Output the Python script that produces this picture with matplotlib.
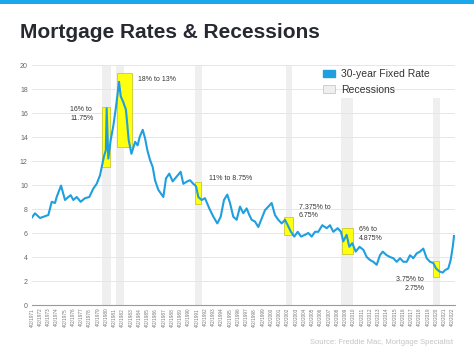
import matplotlib
matplotlib.use("Agg")
import matplotlib.pyplot as plt
from matplotlib.patches import Patch, Rectangle

plt.rcParams['font.family'] = ['Liberation Sans', 'DejaVu Sans']

# taxa fixa a 30 anos, ano em decimal
anos = [1971.25, 1971.61, 1972.22, 1972.83, 1973.23, 1973.64, 1974.04, 1974.24, 1974.77,
        1975.25, 1975.65, 1975.94, 1976.26, 1976.67, 1977.15, 1977.67, 1978.2, 1978.68,
        1979.09, 1979.49, 1979.82, 1979.98, 1980.2, 1980.3, 1980.5, 1980.79, 1981.1,
        1981.43, 1981.8, 1982.0, 1982.32, 1982.64, 1982.97, 1983.3, 1983.75, 1984.05,
        1984.3, 1984.67, 1984.95, 1985.23, 1985.55, 1985.88, 1986.16, 1986.56, 1987.17,
        1987.49, 1987.89, 1988.3, 1988.79, 1989.27, 1989.59, 1990.07, 1990.4, 1990.8,
        1991.13, 1991.41, 1991.82, 1992.22, 1992.74, 1993.23, 1993.71, 1994.12, 1994.52,
        1994.92, 1995.25, 1995.65, 1996.06, 1996.46, 1996.86, 1997.27, 1997.59, 1997.88,
        1998.28, 1998.68, 1999.09, 1999.49, 1999.89, 2000.3, 2000.7, 2001.1, 2001.52,
        2001.92, 2002.24, 2002.64, 2003.04, 2003.46, 2003.86, 2004.34, 2004.74, 2005.15,
        2005.55, 2005.95, 2006.44, 2006.97, 2007.37, 2007.77, 2008.3, 2008.7, 2008.98,
        2009.39, 2009.71, 2010.07, 2010.49, 2010.95, 2011.41, 2011.82, 2012.22, 2012.62,
        2013.03, 2013.43, 2013.76, 2014.24, 2014.64, 2015.04, 2015.46, 2015.86, 2016.26,
        2016.67, 2017.07, 2017.47, 2017.88, 2018.28, 2018.68, 2019.09, 2019.49, 2019.89,
        2020.22, 2020.62, 2021.03, 2021.31, 2021.71, 2022.0, 2022.25, 2022.4]
taxas = [7.3, 7.64, 7.25, 7.4, 7.5, 8.6, 8.5, 9.0, 9.95,
         8.75, 9.0, 9.15, 8.75, 9.0, 8.6, 8.9, 9.0, 9.7,
         10.1, 10.8, 11.9, 12.4, 12.9, 16.4, 12.2, 13.75, 14.9,
         16.5, 18.6, 17.4, 16.9, 16.25, 13.75, 12.6, 13.6, 13.3,
         14.0, 14.6, 13.9, 12.9, 12.1, 11.5, 10.4, 9.6, 9.0,
         10.55, 10.95, 10.3, 10.7, 11.1, 10.1, 10.3, 10.4, 10.1,
         9.9, 9.0, 8.75, 8.9, 8.05, 7.36, 6.8, 7.35, 8.75,
         9.2, 8.5, 7.35, 7.1, 8.2, 7.65, 8.05, 7.5, 7.1,
         6.95, 6.5, 7.2, 7.9, 8.2, 8.5, 7.5, 7.1, 6.8,
         7.1, 6.65, 6.1, 5.7, 6.1, 5.7, 5.85, 6.0, 5.7,
         6.1, 6.1, 6.65, 6.4, 6.65, 6.1, 6.4, 6.1, 5.3,
         5.85, 4.85, 5.15, 4.45, 4.85, 4.6, 4.0, 3.75, 3.6,
         3.35, 4.15, 4.45, 4.15, 4.0, 3.9, 3.6, 3.9, 3.6,
         3.6, 4.15, 3.9, 4.3, 4.45, 4.7, 3.9, 3.6, 3.5,
         3.05, 2.8, 2.7, 2.9, 3.05, 3.75, 4.85, 5.75]

# recessões (inicio, fim)
recessoes = [(1979.70, 1980.79), (1981.40, 1982.44), (1991.01, 1991.89),
             (2002.00, 2002.73), (2008.67, 2010.20), (2019.82, 2020.70)]

# caixas amarelas: (ano inicio, ano fim, taxa baixa, taxa alta)
caixas = [(1979.70, 1980.67, 11.5, 16.47), (1981.59, 1983.37, 13.2, 19.36),
          (1990.97, 1991.73, 8.39, 10.22), (2001.83, 2002.92, 5.83, 7.3),
          (2008.79, 2010.20, 4.22, 6.39), (2019.82, 2020.62, 2.31, 3.67)]

notas = ["16% to\n11.75%", "18% to 13%", "11% to 8.75%",
         "7.375% to\n6.75%", "6% to\n4.875%", "3.75% to\n2.75%"]

rotulos_anos = ["4/2/%d" % a for a in range(1971, 2023)]

W, H = 474, 355
fig = plt.figure(figsize=(W / 100, H / 100), dpi=100)
fig.patch.set_facecolor('white')

# barra azul no topo
fig.patches.append(Rectangle((0, 1 - 4 / H), 1, 4 / H, transform=fig.transFigure,
                             facecolor='#1aa7ec', edgecolor='none'))

fig.text(20 / W, 1 - 33 / H, "Mortgage Rates & Recessions", fontsize=15,
         fontweight='bold', color='#262a30', va='center', ha='left')

ax = fig.add_axes([32 / W, 50 / H, 423 / W, 240 / H])
ax.set_xlim(1971.25, 1971.25 + 423 / 8.25)
ax.set_ylim(0, 20)

for i, (a, b) in enumerate(recessoes):
    topo = 1 if i < 4 else 17.25 / 20
    ax.axvspan(a, b, ymin=0, ymax=topo, color='#efefef', zorder=0, lw=0)

ax.set_yticks(range(0, 21, 2))
ax.yaxis.grid(True, color='#e6e6e6', lw=0.7, zorder=0.5)
ax.set_axisbelow(True)

for a, b, lo, hi in caixas:
    ax.add_patch(Rectangle((a, lo), b - a, hi - lo, facecolor='#ffff10',
                           edgecolor='#c9c930', lw=0.6, zorder=2))

ax.plot(anos, taxas, color='#1f9fe0', lw=1.5, zorder=3)

# posições das notas (ano, taxa, alinhamento)
pos_notas = [(1975.86, 15.93, 'left'), (1984.1, 18.78, 'left'), (1992.7, 10.56, 'left'),
             (2003.61, 7.79, 'left'), (2010.88, 5.9, 'left'), (2018.8, 1.76, 'right')]
for txt, (x, y, al) in zip(notas, pos_notas):
    ax.text(x, y, txt, fontsize=5, color='#333333', ha=al, va='center',
            multialignment=al, linespacing=1.3)

ax.set_xticks([1971.25 + i for i in range(len(rotulos_anos))])
ax.set_xticklabels(rotulos_anos, rotation=90, fontsize=3.4, color='#777777')
ax.tick_params(axis='y', length=0, labelsize=5, labelcolor='#666666', pad=3)
ax.tick_params(axis='x', length=0, pad=2)

for s in ['top', 'right', 'left']:
    ax.spines[s].set_visible(False)
ax.spines['bottom'].set_color('#9a9a9a')
ax.spines['bottom'].set_linewidth(0.8)

handles = [Patch(facecolor='#1f9fe0', edgecolor='#1f9fe0'),
           Patch(facecolor='#efefef', edgecolor='#c8c8c8', lw=0.6)]
fig.legend(handles, ["30-year Fixed Rate", "Recessions"], loc='upper left',
           bbox_to_anchor=(318 / W, 1 - 64 / H), frameon=False, fontsize=7.5,
           borderpad=0, handlelength=1.15, handleheight=0.75, handletextpad=0.6,
           labelspacing=0.55, labelcolor='#333333')

fig.text(453 / W, 1 - 342 / H, "Source: Freddie Mac, Mortgage Specialist",
         fontsize=5.5, color='#c4c4c4', ha='right', va='center')

fig.savefig("out.png", dpi=100)
